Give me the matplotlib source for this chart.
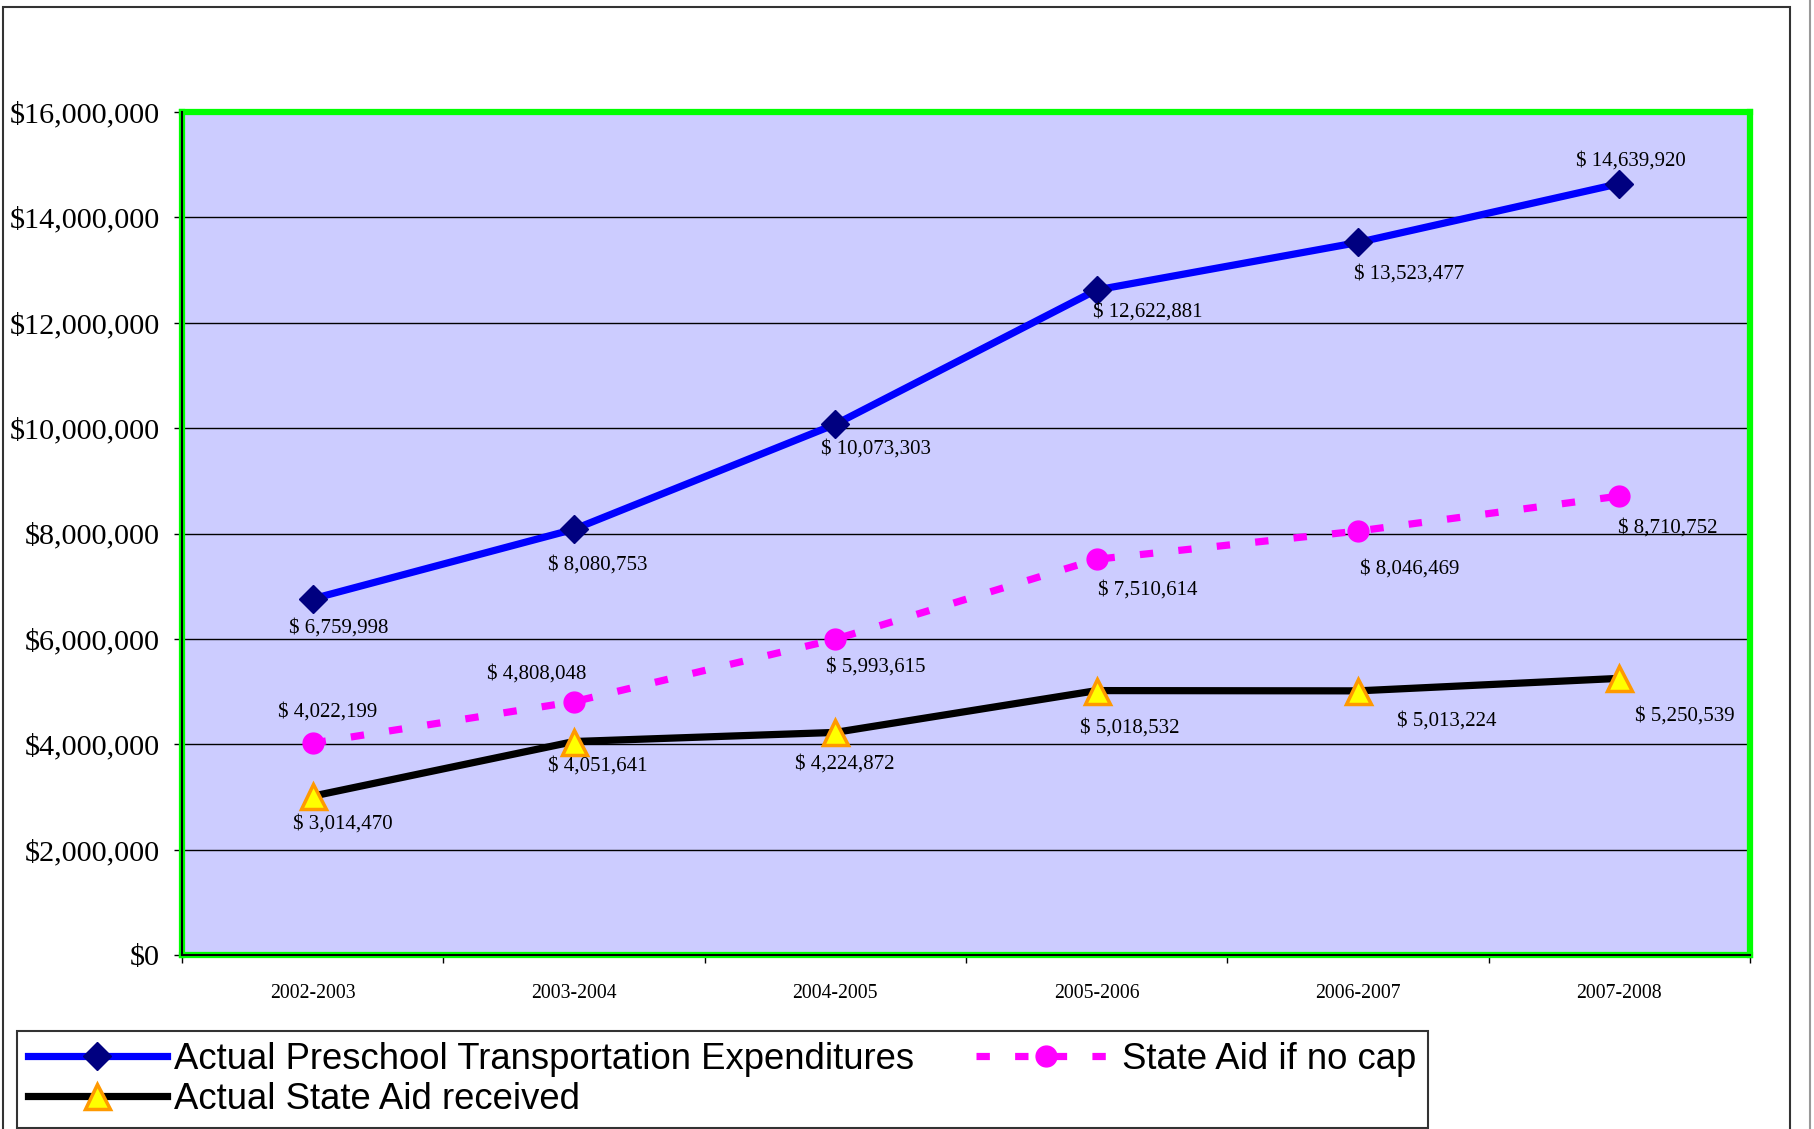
import matplotlib
matplotlib.use("Agg")
import matplotlib.pyplot as plt
from matplotlib.patches import Rectangle
from matplotlib.lines import Line2D
from matplotlib.ticker import FuncFormatter, MultipleLocator

years = ["2002-2003", "2003-2004", "2004-2005", "2005-2006", "2006-2007", "2007-2008"]
expenditures = [6759998, 8080753, 10073303, 12622881, 13523477, 14639920]
aid_no_cap = [4022199, 4808048, 5993615, 7510614, 8046469, 8710752]
aid_received = [3014470, 4051641, 4224872, 5018532, 5013224, 5250539]

# label offsets (points) for each data label
exp_off = [(19, -21), (17, -26), (29, -18), (37, -16), (37, -23), (8, 16)]
nocap_off = [(11, 22), (-27, 20), (29, -20), (37, -22), (37, -27), (35, -23)]
recv_off = [(22, -20), (17, -18), (7, -23), (24, -27), (64, -22), (47, -27)]

serif = "Liberation Serif"
W, H = 1814, 1129
fig = plt.figure(figsize=(W / 100, H / 100), dpi=100)
ax = fig.add_axes([182 / W, 1 - 955 / H, (1750 - 182) / W, (955 - 112) / H])
ax.set_facecolor("#CCCCFF")

x = list(range(len(years)))
ax.plot(x, expenditures, color="#0000FF", lw=5.2, marker="D", ms=14,
        mfc="#000080", mec="#000080", zorder=5,
        label="Actual Preschool Transportation Expenditures")
ax.plot(x, aid_received, color="black", lw=5.2, marker="^", ms=18,
        mfc="#FFFF00", mec="#FF9900", mew=2.5, zorder=5,
        label="Actual State Aid received")
ax.plot(x, aid_no_cap, color="#FF00FF", lw=5.2, dashes=(1.85, 3.5),
        dash_capstyle="butt", marker="o", ms=15, mfc="#FF00FF",
        mec="#FF00FF", zorder=5, label="State Aid if no cap")

def put_labels(vals, offs):
    for xi, v, off in zip(x, vals, offs):
        ax.annotate("$ {:,}".format(v), (xi, v), xytext=off,
                    textcoords="offset points", ha="center", va="center",
                    fontsize=15, family=serif, zorder=6)

put_labels(expenditures, exp_off)
put_labels(aid_no_cap, nocap_off)
put_labels(aid_received, recv_off)

ax.set_xlim(-0.5, len(years) - 0.5)
ax.set_ylim(0, 16000000)
ax.yaxis.set_major_locator(MultipleLocator(2000000))
ax.yaxis.set_major_formatter(FuncFormatter(lambda v, p: "${:,.0f}".format(v)))
ax.grid(axis="y", color="black", lw=1.0)
ax.set_axisbelow(True)

ax.set_xticks(x)
ax.set_xticklabels(years, family=serif, fontsize=14.2)
ax.set_xticks([i - 0.5 for i in range(len(years) + 1)], minor=True)
ax.tick_params(axis="x", which="major", length=0, pad=21)
ax.tick_params(axis="x", which="minor", length=6, width=1, direction="out")
ax.tick_params(axis="y", length=6, width=1, direction="out", pad=10)
for lab in ax.get_yticklabels():
    lab.set_family(serif)
    lab.set_fontsize(21.8)

for s in ax.spines.values():
    s.set_color("#00FF00")
    s.set_linewidth(4.5)
ax.axhline(0, color="black", lw=1.5, zorder=7, clip_on=False)
ax.axvline(-0.5, color="black", lw=1.5, zorder=7, clip_on=False)

handles, labels = ax.get_legend_handles_labels()
leg = fig.legend(handles, labels, ncol=2, loc="lower left",
                 bbox_to_anchor=(17 / W, 1 / H),
                 prop={"family": "Liberation Sans", "size": 26.3},
                 frameon=True, fancybox=False, edgecolor="black",
                 handlelength=3.8, handletextpad=0.2, columnspacing=1.7,
                 labelspacing=0.15, borderpad=0.3, borderaxespad=0)
leg.get_frame().set_linewidth(1.5)

# outer chart frame
fig.add_artist(Rectangle((3 / W, -0.05), (1790 - 3) / W, 1.05 - 7 / H,
                         transform=fig.transFigure, fill=False,
                         edgecolor="#333333", lw=1.5))
fig.add_artist(Line2D([1810 / W, 1810 / W], [0, 1], transform=fig.transFigure,
                      color="#999999", lw=1.5))

fig.savefig("out.png", dpi=100)
